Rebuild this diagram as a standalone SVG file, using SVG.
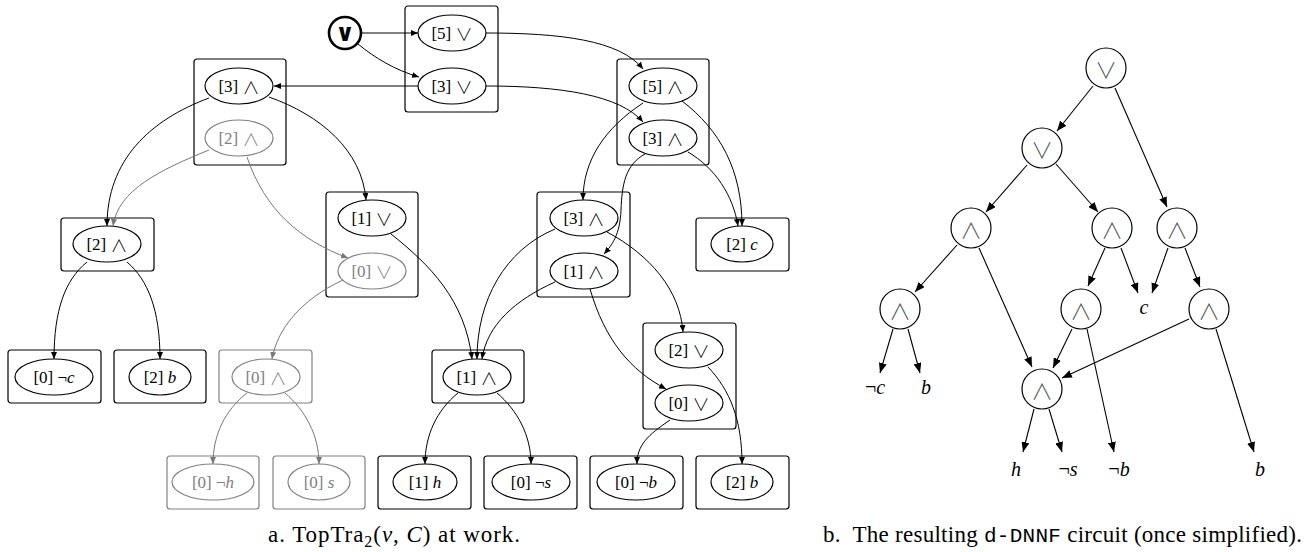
<svg xmlns="http://www.w3.org/2000/svg" width="1309" height="552" viewBox="0 0 1309 552">
<style>
.box{fill:none;stroke:#000;stroke-width:1.2}
.gbox{fill:none;stroke:#808080;stroke-width:1.2}
.el{fill:#fff;stroke:#000;stroke-width:1.2}
.gel{fill:#fff;stroke:#808080;stroke-width:1.2}
.t{font-family:"Liberation Serif","DejaVu Serif",serif;font-size:17px;text-anchor:middle;dominant-baseline:central;fill:#000}
.gt{fill:#808080}
.it{font-style:italic}
.op{font-family:"Noto Sans CJK JP","DejaVu Sans",sans-serif;font-weight:300}
.e{fill:none;stroke:#000;stroke-width:1}
.ge{fill:none;stroke:#777;stroke-width:1}
.c{fill:#fff;stroke:#000;stroke-width:1.2}
.ct{font-family:"Noto Sans CJK JP","DejaVu Sans",sans-serif;font-weight:300;font-size:22px;text-anchor:middle;dominant-baseline:central;fill:#555}
.lt{font-family:"Liberation Serif","DejaVu Serif",serif;font-size:20px;font-style:italic;text-anchor:middle;dominant-baseline:central}
.se{fill:none;stroke:#000;stroke-width:1.1}
.cap{font-family:"Liberation Serif",serif;font-size:23px}
</style>
<defs>
<marker id="a" markerUnits="userSpaceOnUse" markerWidth="8" markerHeight="6" refX="7" refY="3" orient="auto"><path d="M0,0 L7,3 L0,6 z" fill="#000"/></marker>
<marker id="ag" markerUnits="userSpaceOnUse" markerWidth="8" markerHeight="6" refX="7" refY="3" orient="auto"><path d="M0,0 L7,3 L0,6 z" fill="#777"/></marker>
<marker id="b" markerUnits="userSpaceOnUse" markerWidth="11" markerHeight="8" refX="10" refY="4" orient="auto"><path d="M0,0 L10,4 L0,8 z" fill="#000"/></marker>
</defs>

<!-- Left diagram nodes -->
<g id="root">
<circle cx="345" cy="33" r="16" fill="#fff" stroke="#000" stroke-width="2.6"/>
<text x="345" y="33" style="font-family:'DejaVu Sans',sans-serif;font-weight:bold;font-size:24px;text-anchor:middle;dominant-baseline:central">∨</text>
</g>
<g id="box-or53">
<rect x="405" y="6" width="93" height="106" rx="3" class="box"/>
<ellipse cx="452" cy="33" rx="34" ry="18" class="el"/><text x="452" y="33" class="t">[5] <tspan class="op">∨</tspan></text>
<ellipse cx="452" cy="86" rx="34" ry="18" class="el"/><text x="452" y="86" class="t">[3] <tspan class="op">∨</tspan></text>
</g>
<g id="box-and32">
<rect x="194" y="59" width="92" height="106" rx="3" class="box"/>
<ellipse cx="239" cy="86" rx="34" ry="18" class="el"/><text x="239" y="86" class="t">[3] <tspan class="op">∧</tspan></text>
<ellipse cx="239" cy="138" rx="34" ry="18" class="gel"/><text x="239" y="138" class="t gt">[2] <tspan class="op">∧</tspan></text>
</g>
<g id="box-and53">
<rect x="617" y="59" width="92" height="106" rx="3" class="box"/>
<ellipse cx="663" cy="86" rx="34" ry="18" class="el"/><text x="663" y="86" class="t">[5] <tspan class="op">∧</tspan></text>
<ellipse cx="663" cy="138" rx="34" ry="18" class="el"/><text x="663" y="138" class="t">[3] <tspan class="op">∧</tspan></text>
</g>
<g id="box-and2">
<rect x="61" y="218" width="93" height="53" rx="3" class="box"/>
<ellipse cx="107" cy="244" rx="34" ry="18" class="el"/><text x="107" y="244" class="t">[2] <tspan class="op">∧</tspan></text>
</g>
<g id="box-or10">
<rect x="326" y="192" width="92" height="105" rx="3" class="box"/>
<ellipse cx="372" cy="218" rx="34" ry="18" class="el"/><text x="372" y="218" class="t">[1] <tspan class="op">∨</tspan></text>
<ellipse cx="372" cy="271" rx="34" ry="18" class="gel"/><text x="372" y="271" class="t gt">[0] <tspan class="op">∨</tspan></text>
</g>
<g id="box-and31">
<rect x="537" y="192" width="93" height="105" rx="3" class="box"/>
<ellipse cx="584" cy="218" rx="34" ry="18" class="el"/><text x="584" y="218" class="t">[3] <tspan class="op">∧</tspan></text>
<ellipse cx="584" cy="271" rx="34" ry="18" class="el"/><text x="584" y="271" class="t">[1] <tspan class="op">∧</tspan></text>
</g>
<g id="box-c">
<rect x="696" y="218" width="93" height="53" rx="3" class="box"/>
<ellipse cx="742" cy="244" rx="31" ry="18" class="el"/><text x="742" y="244" class="t">[2] <tspan class="it">c</tspan></text>
</g>
<g id="box-or20">
<rect x="643" y="323" width="93" height="106" rx="3" class="box"/>
<ellipse cx="689" cy="350" rx="34" ry="18" class="el"/><text x="689" y="350" class="t">[2] <tspan class="op">∨</tspan></text>
<ellipse cx="689" cy="403" rx="34" ry="18" class="el"/><text x="689" y="403" class="t">[0] <tspan class="op">∨</tspan></text>
</g>
<g id="box-notc">
<rect x="8" y="350" width="93" height="53" rx="3" class="box"/>
<ellipse cx="54" cy="377" rx="39" ry="18" class="el"/><text x="54" y="377" class="t">[0] ¬<tspan class="it">c</tspan></text>
</g>
<g id="box-b1">
<rect x="114" y="350" width="92" height="53" rx="3" class="box"/>
<ellipse cx="160" cy="377" rx="31" ry="18" class="el"/><text x="160" y="377" class="t">[2] <tspan class="it">b</tspan></text>
</g>
<g id="box-and0">
<rect x="219" y="350" width="93" height="53" rx="3" class="gbox"/>
<ellipse cx="266" cy="377" rx="34" ry="18" class="gel"/><text x="266" y="377" class="t gt">[0] <tspan class="op">∧</tspan></text>
</g>
<g id="box-and1">
<rect x="432" y="350" width="92" height="53" rx="3" class="box"/>
<ellipse cx="477" cy="377" rx="34" ry="18" class="el"/><text x="477" y="377" class="t">[1] <tspan class="op">∧</tspan></text>
</g>
<g id="box-noth">
<rect x="167" y="456" width="92" height="53" rx="3" class="gbox"/>
<ellipse cx="213" cy="482" rx="41" ry="18" class="gel"/><text x="213" y="482" class="t gt">[0] ¬<tspan class="it">h</tspan></text>
</g>
<g id="box-s">
<rect x="273" y="456" width="92" height="53" rx="3" class="gbox"/>
<ellipse cx="319" cy="482" rx="31" ry="18" class="gel"/><text x="319" y="482" class="t gt">[0] <tspan class="it">s</tspan></text>
</g>
<g id="box-h">
<rect x="378" y="456" width="93" height="53" rx="3" class="box"/>
<ellipse cx="425" cy="482" rx="32" ry="18" class="el"/><text x="425" y="482" class="t">[1] <tspan class="it">h</tspan></text>
</g>
<g id="box-nots">
<rect x="484" y="456" width="93" height="53" rx="3" class="box"/>
<ellipse cx="531" cy="482" rx="39" ry="18" class="el"/><text x="531" y="482" class="t">[0] ¬<tspan class="it">s</tspan></text>
</g>
<g id="box-notb">
<rect x="590" y="456" width="93" height="53" rx="3" class="box"/>
<ellipse cx="636" cy="482" rx="39" ry="18" class="el"/><text x="636" y="482" class="t">[0] ¬<tspan class="it">b</tspan></text>
</g>
<g id="box-b2">
<rect x="696" y="456" width="93" height="53" rx="3" class="box"/>
<ellipse cx="742" cy="482" rx="31" ry="18" class="el"/><text x="742" y="482" class="t">[2] <tspan class="it">b</tspan></text>
</g>

<!-- Left diagram connectors -->
<g id="left-edges">
<path class="e" marker-end="url(#a)" d="M361,33 L418,33"/>
<path class="e" marker-end="url(#a)" d="M358,44 C375,58 395,70 419,77"/>
<path class="e" marker-end="url(#a)" d="M418,86 L274,86"/>
<path class="e" marker-end="url(#a)" d="M486,33 C560,33 620,40 643,69"/>
<path class="e" marker-end="url(#a)" d="M486,86 C560,86 620,95 643,122"/>
<path class="e" marker-end="url(#a)" d="M643,103 C605,128 583,160 583,200"/>
<path class="e" marker-end="url(#a)" d="M682,101 C720,130 742,170 742,226"/>
<path class="e" marker-end="url(#a)" d="M688,152 C715,168 733,195 738,226"/>
<path class="e" marker-end="url(#a)" d="M645,154 C625,165 622,185 621,210 C620,235 612,245 604,254"/>
<path class="e" marker-end="url(#a)" d="M209,98 C150,120 107,160 107,226"/>
<path class="e" marker-end="url(#a)" d="M269,97 C320,115 362,150 366,200"/>
<path class="ge" marker-end="url(#ag)" d="M209,150 C160,170 118,190 113,226"/>
<path class="ge" marker-end="url(#ag)" d="M247,157 C265,210 300,240 348,258"/>
<path class="e" marker-end="url(#a)" d="M391,234 C430,265 465,300 472,359"/>
<path class="e" marker-end="url(#a)" d="M555,229 C505,250 477,300 477,359"/>
<path class="e" marker-end="url(#a)" d="M555,282 C515,300 487,325 482,359"/>
<path class="e" marker-end="url(#a)" d="M607,232 C650,255 680,290 683,332"/>
<path class="e" marker-end="url(#a)" d="M590,289 C605,340 630,370 666,389"/>
<path class="ge" marker-end="url(#ag)" d="M343,280 C300,300 277,330 272,359"/>
<path class="e" marker-end="url(#a)" d="M87,262 C65,280 54,310 54,359"/>
<path class="e" marker-end="url(#a)" d="M127,262 C148,280 160,310 160,359"/>
<path class="ge" marker-end="url(#ag)" d="M247,393 C225,410 213,435 213,464"/>
<path class="ge" marker-end="url(#ag)" d="M285,393 C305,410 319,435 319,464"/>
<path class="e" marker-end="url(#a)" d="M458,393 C437,410 425,435 425,464"/>
<path class="e" marker-end="url(#a)" d="M497,393 C517,410 531,435 531,464"/>
<path class="e" marker-end="url(#a)" d="M670,420 C648,435 637,445 637,464"/>
<path class="e" marker-end="url(#a)" d="M708,367 C730,390 742,420 742,464"/>
</g>

<!-- Right diagram nodes -->
<g id="r-or1"><circle cx="1106" cy="68" r="20" class="c"/><text x="1106" y="68" class="ct">∨</text></g>
<g id="r-or2"><circle cx="1042" cy="148" r="20" class="c"/><text x="1042" y="148" class="ct">∨</text></g>
<g id="r-and1"><circle cx="971" cy="228" r="20" class="c"/><text x="971" y="228" class="ct">∧</text></g>
<g id="r-and2"><circle cx="1112" cy="228" r="20" class="c"/><text x="1112" y="228" class="ct">∧</text></g>
<g id="r-and3"><circle cx="1177" cy="228" r="20" class="c"/><text x="1177" y="228" class="ct">∧</text></g>
<g id="r-and4"><circle cx="900" cy="309" r="20" class="c"/><text x="900" y="309" class="ct">∧</text></g>
<g id="r-and5"><circle cx="1081" cy="309" r="20" class="c"/><text x="1081" y="309" class="ct">∧</text></g>
<g id="r-and6"><circle cx="1209" cy="309" r="20" class="c"/><text x="1209" y="309" class="ct">∧</text></g>
<g id="r-and7"><circle cx="1042" cy="389" r="20" class="c"/><text x="1042" y="389" class="ct">∧</text></g>
<g id="r-c"><text x="1144" y="307" class="lt">c</text></g>
<g id="r-notc"><text x="875" y="387" class="lt"><tspan style="font-style:normal">¬</tspan>c</text></g>
<g id="r-b1"><text x="926" y="387" class="lt">b</text></g>
<g id="r-h"><text x="1016" y="469" class="lt">h</text></g>
<g id="r-nots"><text x="1068" y="469" class="lt"><tspan style="font-style:normal">¬</tspan>s</text></g>
<g id="r-notb"><text x="1119" y="469" class="lt"><tspan style="font-style:normal">¬</tspan>b</text></g>
<g id="r-b2"><text x="1260" y="469" class="lt">b</text></g>

<!-- Right diagram connectors -->
<g id="right-edges">
<path class="se" marker-end="url(#b)" d="M1093,86 L1057,131"/>
<path class="se" marker-end="url(#b)" d="M1115,88 L1167,207"/>
<path class="se" marker-end="url(#b)" d="M1027,165 L986,212"/>
<path class="se" marker-end="url(#b)" d="M1056,164 L1098,212"/>
<path class="se" marker-end="url(#b)" d="M957,245 L915,292"/>
<path class="se" marker-end="url(#b)" d="M979,248 L1032,367"/>
<path class="se" marker-end="url(#b)" d="M1105,248 L1088,286"/>
<path class="se" marker-end="url(#b)" d="M1121,248 L1138,293"/>
<path class="se" marker-end="url(#b)" d="M1168,248 L1152,293"/>
<path class="se" marker-end="url(#b)" d="M1185,248 L1200,287"/>
<path class="se" marker-end="url(#b)" d="M893,329 L880,373"/>
<path class="se" marker-end="url(#b)" d="M908,329 L920,373"/>
<path class="se" marker-end="url(#b)" d="M1072,329 L1053,368"/>
<path class="se" marker-end="url(#b)" d="M1087,329 L1114,452"/>
<path class="se" marker-end="url(#b)" d="M1189,319 L1062,378"/>
<path class="se" marker-end="url(#b)" d="M1216,329 L1254,452"/>
<path class="se" marker-end="url(#b)" d="M1034,409 L1023,452"/>
<path class="se" marker-end="url(#b)" d="M1049,409 L1062,452"/>
</g>

<!-- Captions -->
<text x="268" y="542" class="cap" textLength="252" lengthAdjust="spacing">a. TopTra<tspan font-size="16" dy="5">2</tspan><tspan dy="-5">(</tspan><tspan font-style="italic">ν</tspan>, <tspan font-style="italic">C</tspan>) at work.</text>
<text x="823" y="542" class="cap" xml:space="preserve" textLength="479" lengthAdjust="spacing">b.  The resulting <tspan font-family="Liberation Mono,monospace" font-size="21">d-DNNF</tspan> circuit (once simplified).</text>
</svg>
